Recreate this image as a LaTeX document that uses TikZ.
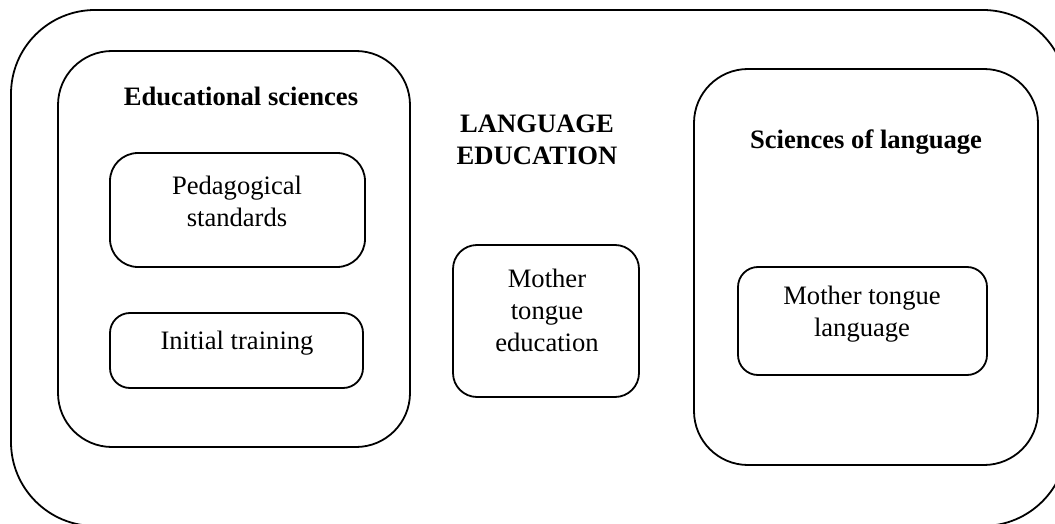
\documentclass[tikz,border=0pt]{standalone}
\usepackage{fontspec}
\setmainfont{Liberation Serif}
\usetikzlibrary{positioning}

\begin{document}
\begin{tikzpicture}[x=0.5pt,y=-0.5pt,line width=0.9pt,
    every node/.style={align=center,font=\fontsize{13.3}{16}\selectfont},
    head/.style={font=\fontsize{13.3}{16}\selectfont\bfseries}]
  \useasboundingbox (0,0) rectangle (1055,524);
  \clip (0,0) rectangle (1055,524);
  % frames
  \draw[rounded corners=42pt] (11,10) rectangle (1067,526);
  \draw[rounded corners=27pt] (58,51) rectangle (410,447);
  \draw[rounded corners=27pt] (694,69) rectangle (1038,465);
  \draw[rounded corners=14pt] (110,153) rectangle (365,267);
  \draw[rounded corners=10pt] (110,313) rectangle (363,388);
  \draw[rounded corners=12pt] (453,245) rectangle (639,397);
  \draw[rounded corners=10pt] (738,267) rectangle (987,375);
  % titles
  \node[head] (edusci) at (241,96) {Educational sciences};
  \node[head] (langedu) at (537,140) {LANGUAGE\\EDUCATION};
  \node[head] (scilang) at (866,142) {Sciences of language};
  % inner texts
  \node (pedstd) at (237,201) {Pedagogical\\standards};
  \node (inittr) at (237,343) {Initial training};
  \node (mtedu) at (547,310) {Mother\\tongue\\education};
  \node (mtlang) at (862,314) {Mother tongue\\language};
\end{tikzpicture}
\end{document}
